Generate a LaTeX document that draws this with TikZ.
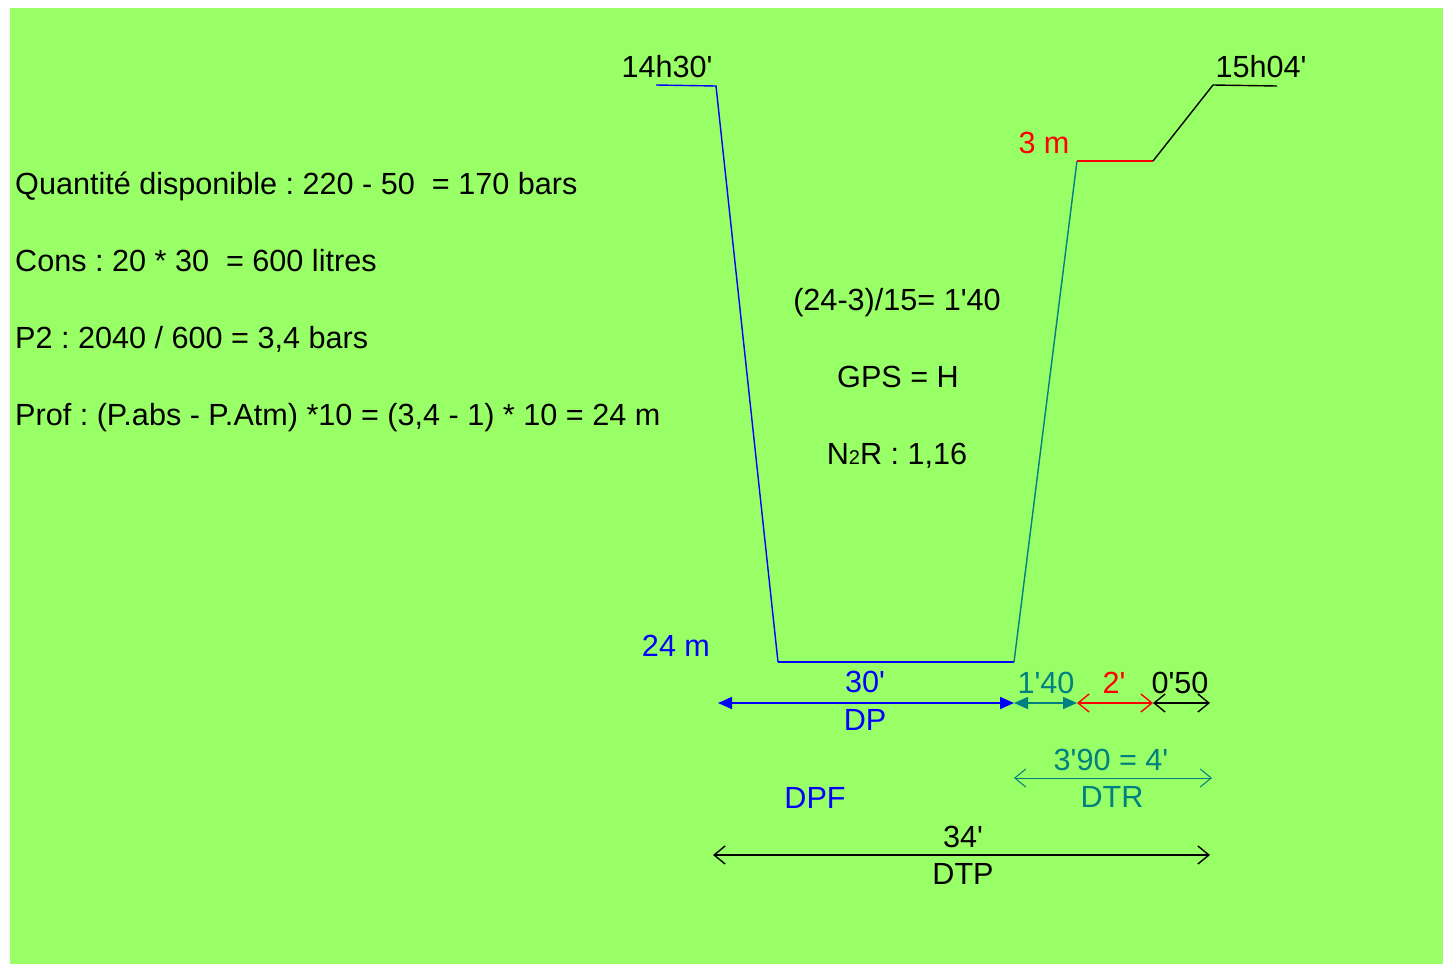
\documentclass[tikz,border=0pt]{standalone}
\usepackage{fontspec}
\setmainfont{Liberation Sans}[Ligatures=TeXOff]
\usepackage{xcolor}
\usetikzlibrary{arrows.meta,positioning}
\definecolor{bggreen}{RGB}{153,255,102}
\definecolor{dtrteal}{RGB}{0,128,128}
\frenchspacing

\begin{document}
\begin{tikzpicture}[x=1pt, y=-1pt,
        txt/.style={inner sep=0pt, anchor=base, font=\fontsize{30.6}{36}\selectfont},
        txtleft/.style={txt, anchor=base west},
        profile/.style={line width=1.4pt},
        level/.style={line width=2.8pt},
        fullarrow/.style={{Triangle[length=14pt,width=12pt]}-{Triangle[length=14pt,width=12pt]}, line width=1.6pt},
        openarrow/.style={{Straight Barb[length=11pt,width=18pt]}-{Straight Barb[length=11pt,width=18pt]}, line width=1.4pt}]

        \useasboundingbox (0,0) rectangle (1451,964);
        \fill[bggreen] (10,8) rectangle (1443,964);

        % dive profile
        \coordinate (start) at (656,85);
        \coordinate (descent) at (716,86);
        \coordinate (bottomL) at (778,662);
        \coordinate (bottomR) at (1014,662);
        \coordinate (stopL) at (1077,161);
        \coordinate (stopR) at (1153,161);
        \coordinate (surface) at (1213,85);
        \coordinate (finish) at (1277,86);

        \draw[profile, blue] (start) -- (descent) -- (bottomL);
        \draw[level, blue] (bottomL) -- (bottomR);
        \draw[profile, dtrteal] (bottomR) -- (stopL);
        \draw[level, red] (stopL) -- (stopR);
        \draw[profile] (stopR) -- (surface) -- (finish);

        \node[txt] (tstart) at (667,77) {14h30'};
        \node[txt] (tend) at (1261,77) {15h04'};
        \node[txt, red] (depthstop) at (1044,153) {3 m};
        \node[txt, blue] (depthmax) at (676,656) {24 m};

        % calculations
        \node[txtleft] (qty) at (15,194) {Quantité disponible : 220 - 50 \ = 170 bars};
        \node[txtleft] (cons) at (15,271) {Cons : 20 * 30 \ = 600 litres};
        \node[txtleft] (ptwo) at (15,348) {P2 : 2040 / 600 = 3,4 bars};
        \node[txtleft] (prof) at (15,425) {Prof : (P.abs - P.Atm) *10 = (3,4 - 1) * 10 = 24 m};

        \node[txt] (remont) at (897,310) {(24-3)/15= 1'40};
        \node[txt] (gps) at (898,387) {GPS = H};
        \node[txt] (ntwor) at (897,464) {N{\fontsize{20}{24}\selectfont 2}R : 1,16};

        % durations
        \coordinate (dpL) at (718,703);
        \coordinate (dpR) at (1014,703);
        \coordinate (remR) at (1077,703);
        \coordinate (palR) at (1153,703);
        \coordinate (surfR) at (1210,703);
        \coordinate (dtrL) at (1014,778);
        \coordinate (dtrR) at (1212,778);
        \coordinate (dtpL) at (713,855);
        \coordinate (dtpR) at (1210,855);

        \draw[fullarrow, blue] (dpL) -- (dpR);
        \draw[fullarrow, dtrteal] (dpR) -- (remR);
        \draw[openarrow, red] (remR) -- (palR);
        \draw[openarrow] (palR) -- (surfR);
        \draw[openarrow, dtrteal, line width=1pt] (dtrL) -- (dtrR);
        \draw[openarrow] (dtpL) -- (dtpR);

        \node[txt, blue] (tbottom) at (865,692) {30'};
        \node[txt, blue] (dp) at (865,730) {DP};
        \node[txt, dtrteal] (tremont) at (1046,693) {1'40};
        \node[txt, red] (tpalier) at (1114,693) {2'};
        \node[txt] (tsurf) at (1180,693) {0'50};
        \node[txt, dtrteal] (tdtr) at (1111,770) {3'90 = 4'};
        \node[txt, dtrteal] (dtr) at (1112,807) {DTR};
        \node[txt, blue] (dpf) at (815,808) {DPF};
        \node[txt] (tdtp) at (963,847) {34'};
        \node[txt] (dtp) at (963,884) {DTP};
    \end{tikzpicture}
\end{document}
